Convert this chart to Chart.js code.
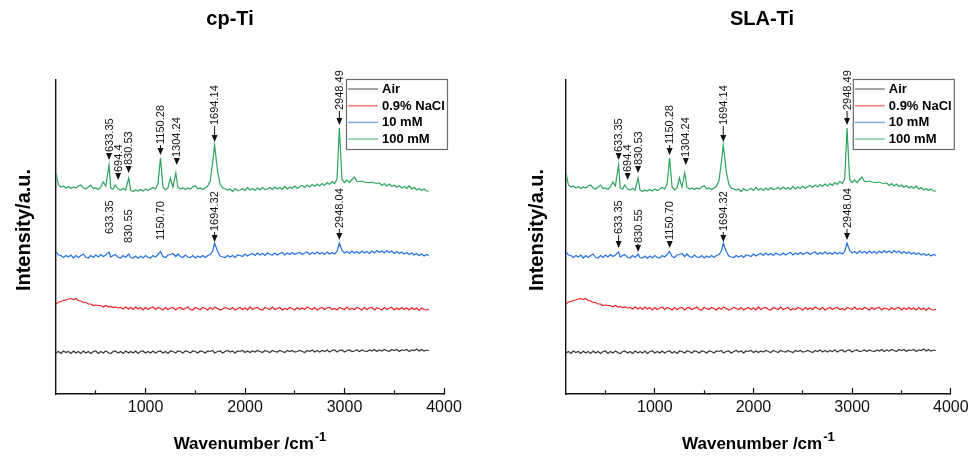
<!DOCTYPE html>
<html>
<head>
<meta charset="utf-8">
<title>Raman spectra</title>
<script src="https://cdn.jsdelivr.net/npm/chart.js@4.4.1/dist/chart.umd.min.js"></script>
<style>
  html, body { margin: 0; padding: 0; background: #fff; overflow: hidden; }
  #wrap { position: relative; width: 979px; height: 456px; }
  canvas { position: absolute; top: 0; }
  #cpTi { left: 0; }
  #slaTi { left: 490px; }
</style>
</head>
<body>
<div id="wrap">
  <canvas id="cpTi" width="490" height="456"></canvas>
  <canvas id="slaTi" width="489" height="456"></canvas>
</div>
<script>
// Raman shift (cm-1) shared by every spectrum
const wavenumbers = [
  100,125,150,175,200,225,250,275,300,325,
  350,375,400,425,450,475,500,525,550,575,
  600,633,650,675,694,725,750,775,800,831,
  850,875,900,925,950,975,1000,1025,1050,1075,
  1100,1125,1150,1175,1200,1225,1250,1275,1304,1325,
  1350,1375,1400,1425,1450,1475,1500,1525,1550,1575,
  1600,1625,1650,1675,1694,1725,1750,1775,1800,1825,
  1850,1875,1900,1925,1950,1975,2000,2025,2050,2075,
  2100,2125,2150,2175,2200,2225,2250,2275,2300,2325,
  2350,2375,2400,2425,2450,2475,2500,2525,2550,2575,
  2600,2625,2650,2675,2700,2725,2750,2775,2800,2825,
  2850,2875,2900,2925,2948,2975,3000,3025,3050,3075,
  3100,3125,3150,3175,3200,3225,3250,3275,3300,3325,
  3350,3375,3400,3425,3450,3475,3500,3525,3550,3575,
  3600,3625,3650,3675,3700,3725,3750,3775,3800,3825,
  3850
];

const seriesNames = ['Air', '0.9% NaCl', '10 mM', '100 mM'];

// Stacked intensities (a.u., offsets included)
const airIntensity = [
  41,42.5,40.5,43,41.5,42.5,40.5,43,41,42.5,
  40.5,43,41,42.5,40.5,42.5,43,40.5,42.5,41,
  43,41,40.5,42.5,43,41,42.5,40.5,43,41,
  42.5,41,43,40.5,42.5,43,41,42.5,41,43,
  41,42.5,43,41,42.5,40.5,43,42.5,41,43,
  42.5,41,43,42.5,41,43,42.5,41,43,42.5,
  41,43,42.5,43.5,41,42.5,43,41,42.5,43.5,
  42,43,41,43,42.5,43.5,41.5,43,41.5,43,
  42,43.5,42.5,41.5,43.5,42.5,41.5,43.5,42.5,42,
  43.5,42.5,41.5,43.5,42.5,43.5,42,42.5,43.5,42.5,
  41.5,43.5,42.5,44,42,43.5,42,43.5,42.5,44,
  42,43.5,44,42,43.5,44,42,43.5,44,42.5,
  43,44,42.5,44,43,42.5,44,43,44.5,42.5,
  44,43,44.5,43.5,42.5,44.5,43.5,44.5,42.5,44,
  43.5,44.5,42.5,44,43.5,45,43,44.5,43,44,
  43.5
];

const naclIntensity = [
  90,92,92.5,93.5,94,95,95.5,94.5,95.5,93.5,
  93,91.5,91.5,90,90,88.5,89,88.5,88.5,87,
  88.5,87,87.5,86.5,87,86,86.5,85,87,85,
  86.5,84.5,87,85,86.5,84,86.5,84.5,86,87,
  84.5,86.5,85.5,84,86.5,84.5,86,86.5,84,86,
  86.5,84.5,85.5,87,84.5,84,86.5,85.5,84.5,86.5,
  85.5,84,86.5,84.5,87,85.5,84,85,86.5,85.5,
  84.5,86.5,84,85.5,86.5,84.5,86,84,87,84.5,
  86,86.5,84.5,84,86.5,85.5,84.5,87,84.5,85.5,
  86.5,84,85.5,84.5,86.5,85.5,84,86.5,84.5,86,
  84.5,87,85.5,84.5,86.5,84,85.5,86.5,84.5,86,
  86.5,84.5,85.5,84,86.5,85.5,84.5,87,84.5,85.5,
  84.5,86.5,85.5,84,86.5,84.5,86,86.5,84,86,
  85.5,84,86.5,84.5,86,86.5,84,86,84.5,86.5,
  84.5,86,84,86.5,84.5,86,83.5,86,84.5,84,
  85
];

const mM10Intensity = [
  142.5,139,138.5,136.5,138.5,137,139,136,138.5,136.5,
  138.5,140,136.5,136,138.5,136.5,139,137,139.5,137.5,
  139,142,137,138.5,139.5,136.5,136,138.5,136.5,140,
  136.5,136,138,135.5,138,136,138.5,136.5,136,138.5,
  137,139.5,142.5,137.5,136.5,139,139.5,140.5,137.5,140,
  137.5,136.5,139,137,136.5,138.5,136,138,136.5,138.5,
  136.5,138.5,139.5,143,151,142.5,138,137,136.5,138.5,
  137,138.5,136.5,139,138.5,137.5,140,138,139.5,140.5,
  138.5,141,139,140.5,138.5,141,139.5,139,141,139,
  140.5,141.5,139,141,139.5,141.5,139.5,141,141.5,139.5,
  141,142,139.5,141.5,140,142,140,141.5,139.5,142,
  140,141.5,140,142.5,151,143.5,141,142.5,140.5,143,
  141,142.5,140.5,143,141,142.5,140.5,143,141,143.5,
  141.5,143,141,143.5,141.5,143,140.5,142.5,140.5,142,
  140,141.5,139.5,141,139,140.5,138.5,140,138,139.5,
  138.5
];

const mM100Intensity = [
  221,209,207,208,206,207.5,205.5,207,206,208,
  209,206,205,207,209,205.5,206,204.5,207,212,
  208,229,206,205,209,205,204,205.5,204,216,
  204,202.5,204,203,204.5,203,205,203.5,205,206.5,
  205,210,236,207,204,206,216,207,221,207,
  205,206,204.5,206,205,207,208.5,205,206,204.5,
  206,208,213,232,249,222,210,206,205,204,
  205,202.5,205.5,203.5,204,205.5,203.5,206.5,204,205.5,
  203.5,206,204,206.5,204.5,205,206.5,204.5,207,205,
  206.5,204.5,207.5,205,207,205.5,208,205.5,207.5,208.5,
  206.5,209,207,209.5,207.5,210,208,210.5,208.5,211.5,
  209.5,212.5,210.5,215,266,214.5,211.5,214,211.5,214.5,
  217,212.5,212.5,213,212,211.5,211.5,212,211,210.5,
  211,208.5,210.5,208,210,207.5,209,206.5,208.5,206,
  207.5,205.5,208,205,206.5,204,205.5,203.5,205,203,
  203
];

// Axis ticks
const majorTicks = [1000, 2000, 3000, 4000];
const minorTicks = [500, 1500, 2500, 3500];

// Peak positions written above the spectra
const peaks100mM = ['633.35', '694.4', '830.53', '1150.28', '1304.24', '1694.14', '2948.49'];
const peaks10mM = ['633.35', '830.55', '1150.70', '1694.32', '2948.04'];

// ---------------------------------------------------------------- styling
const FONT = "'Liberation Sans', Arial, Helvetica, sans-serif";
const lineColors = ['#363636', '#ea2228', '#2470e2', '#2ca45c'];

// arrow lift above the peak, extra shaft length and sideways nudge (px) for each label
const marks100mM = [
  {lift: 5, shaft: 0, dx: 0}, {lift: 5, shaft: 0, dx: 3}, {lift: 5, shaft: 0, dx: 0}, {lift: 3, shaft: 3, dx: 0},
  {lift: 8, shaft: 0, dx: 1}, {lift: 3, shaft: 9, dx: 0}, {lift: 3, shaft: 7, dx: 0}
];
const marks10mM = [
  {lift: 4, shaft: 6, dx: 0}, {lift: 2, shaft: 1, dx: 0}, {lift: 3.5, shaft: 0, dx: 0},
  {lift: 1, shaft: 3, dx: 0}, {lift: 3, shaft: 4, dx: 0}
];

const captionsPlugin = {
  id: 'captions',
  afterDraw(chart, args, o) {
    const {ctx, chartArea} = chart;
    ctx.save();
    ctx.fillStyle = '#000';
    // panel title
    ctx.font = `bold ${o.titleSize}px ${FONT}`;
    ctx.textAlign = 'center';
    ctx.textBaseline = 'middle';
    ctx.fillText(o.title, o.titleX, o.titleY);
    // vertical axis title
    ctx.save();
    ctx.translate(o.yTitleX, o.yTitleY);
    ctx.rotate(-Math.PI / 2);
    ctx.font = `bold ${o.yTitleSize}px ${FONT}`;
    ctx.fillText(o.yTitle, 0, 0);
    ctx.restore();
    // horizontal axis title with superscript unit
    const mainFont = `bold ${o.xTitleSize}px ${FONT}`;
    const supFont = `bold ${o.supSize}px ${FONT}`;
    ctx.font = mainFont;
    const wMain = ctx.measureText(o.xTitle).width;
    ctx.font = supFont;
    const wSup = ctx.measureText(o.xSup).width;
    const cx = (chartArea.left + chartArea.right) / 2;
    const start = cx - (wMain + 1 + wSup) / 2;
    ctx.textAlign = 'left';
    ctx.textBaseline = 'alphabetic';
    ctx.font = mainFont;
    ctx.fillText(o.xTitle, start, o.xBaseline);
    ctx.font = supFont;
    ctx.fillText(o.xSup, start + wMain + 1, o.xBaseline - o.supRise);
    ctx.restore();
  }
};

const boxLegendPlugin = {
  id: 'boxLegend',
  afterDraw(chart, args, o) {
    const {ctx, chartArea} = chart;
    const right = chartArea.right + o.dx;
    const top = chartArea.top + o.dy;
    const left = right - o.width;
    ctx.save();
    ctx.fillStyle = '#fff';
    ctx.fillRect(left, top, o.width, o.height);
    ctx.strokeStyle = '#6a6a6a';
    ctx.lineWidth = 1.2;
    ctx.strokeRect(left + 0.5, top + 0.5, o.width, o.height);
    chart.data.datasets.forEach((ds, i) => {
      const y = top + o.firstRow + i * o.rowGap;
      ctx.globalAlpha = 0.6;
      ctx.strokeStyle = ds.borderColor;
      ctx.lineWidth = 1.5;
      ctx.beginPath();
      ctx.moveTo(left + 2, y);
      ctx.lineTo(left + 2 + o.sample, y);
      ctx.stroke();
      ctx.globalAlpha = 1;
      ctx.fillStyle = '#000';
      ctx.font = `bold ${o.fontSize}px ${FONT}`;
      ctx.textAlign = 'left';
      ctx.textBaseline = 'middle';
      ctx.fillText(ds.label, left + 2 + o.sample + 4, y + 0.5);
    });
    ctx.restore();
  }
};

const peakMarksPlugin = {
  id: 'peakMarks',
  afterDatasetsDraw(chart, args, o) {
    const {ctx} = chart;
    const xs = chart.scales.x, ys = chart.scales.y;
    o.groups.forEach(g => {
      const ds = chart.data.datasets[g.dataset];
      g.labels.forEach((lab, k) => {
        const w = parseFloat(lab);
        let top = -Infinity;
        ds.data.forEach(p => { if (Math.abs(p.x - w) <= 15 && p.y > top) top = p.y; });
        const lay = g.layout[k];
        const px = xs.getPixelForValue(w) + lay.dx;
        const py = ys.getPixelForValue(top);
        const tip = py - lay.lift;
        const triTop = tip - o.arrowHeight;
        const textStart = triTop - lay.shaft - 1;
        ctx.save();
        if (g.arrows[k]) {
          ctx.fillStyle = '#111';
          ctx.beginPath();
          ctx.moveTo(px - o.arrowHalf, triTop);
          ctx.lineTo(px + o.arrowHalf, triTop);
          ctx.lineTo(px, tip);
          ctx.closePath();
          ctx.fill();
          if (lay.shaft > 0) {
            ctx.strokeStyle = '#111';
            ctx.lineWidth = 1;
            ctx.beginPath();
            ctx.moveTo(px, triTop);
            ctx.lineTo(px, triTop - lay.shaft);
            ctx.stroke();
          }
        }
        ctx.translate(px, textStart);
        ctx.rotate(-Math.PI / 2);
        ctx.font = `${o.fontSize}px ${FONT}`;
        ctx.fillStyle = '#111';
        ctx.textAlign = 'left';
        ctx.textBaseline = 'middle';
        ctx.fillText(lab, 0, 0.5);
        ctx.restore();
      });
    });
  }
};

function buildPanel(canvasId, cfg) {
  const traces = [airIntensity, naclIntensity, mM10Intensity, mM100Intensity];
  const datasets = traces.map((vals, i) => ({
    label: seriesNames[i],
    data: wavenumbers.map((w, j) => ({x: w, y: vals[j]})),
    borderColor: lineColors[i],
    borderWidth: 1.2,
    pointRadius: 0,
    tension: 0,
    fill: false
  }));
  return new Chart(document.getElementById(canvasId), {
    type: 'line',
    data: {datasets},
    options: {
      responsive: false,
      animation: false,
      devicePixelRatio: 1,
      layout: {padding: {top: 80, left: 0, right: cfg.padRight, bottom: 0}},
      plugins: {
        legend: {display: false},
        tooltip: {enabled: false},
        title: {display: false},
        captions: {
          title: cfg.title, titleX: cfg.titleX, titleY: 19, titleSize: 20,
          yTitle: 'Intensity/a.u.', yTitleX: cfg.yTitleX, yTitleY: 230, yTitleSize: 20,
          xTitle: 'Wavenumber /cm', xSup: '-1', xTitleSize: 17, supSize: 13, supRise: 8, xBaseline: 449
        },
        boxLegend: {dx: 3, dy: -1, width: 101, height: 70, firstRow: 10, rowGap: 16.7, sample: 30, fontSize: 13},
        peakMarks: {
          fontSize: 11, arrowHeight: 7, arrowHalf: 3,
          groups: [
            {dataset: 3, labels: peaks100mM, layout: marks100mM, arrows: peaks100mM.map(() => true)},
            {dataset: 2, labels: peaks10mM, layout: marks10mM, arrows: cfg.arrows10mM}
          ]
        }
      },
      scales: {
        x: {
          type: 'linear',
          min: 100,
          max: 4000,
          afterBuildTicks: axis => {
            axis.ticks = minorTicks.concat(majorTicks).sort((a, b) => a - b).map(v => ({value: v}));
          },
          afterFit: scale => { scale.height = 62; },
          grid: {
            display: true,
            drawOnChartArea: false,
            drawTicks: true,
            tickLength: -6,
            tickColor: '#111',
            tickWidth: 1.2,
            tickBorderDash: ctx => (ctx.tick && minorTicks.includes(ctx.tick.value)) ? [4, 50] : []
          },
          border: {display: true, color: '#111', width: 1.4},
          ticks: {
            autoSkip: false,
            maxRotation: 0,
            padding: 10.4,
            color: '#111',
            font: {family: FONT, size: 16},
            callback: v => majorTicks.includes(v) ? String(v) : ''
          }
        },
        y: {
          min: 0,
          max: 314,
          grid: {display: false},
          ticks: {display: false},
          border: {display: true, color: '#111', width: 1.4},
          afterFit: scale => { scale.width = cfg.yAxisWidth; }
        }
      }
    },
    plugins: [captionsPlugin, boxLegendPlugin, peakMarksPlugin]
  });
}

buildPanel('cpTi', {
  title: 'cp-Ti', titleX: 230, yTitleX: 24, yAxisWidth: 56, padRight: 46,
  arrows10mM: [false, false, false, true, true]
});
buildPanel('slaTi', {
  title: 'SLA-Ti', titleX: 272, yTitleX: 47, yAxisWidth: 76, padRight: 26,
  arrows10mM: [true, true, true, true, true]
});
</script>
</body>
</html>
